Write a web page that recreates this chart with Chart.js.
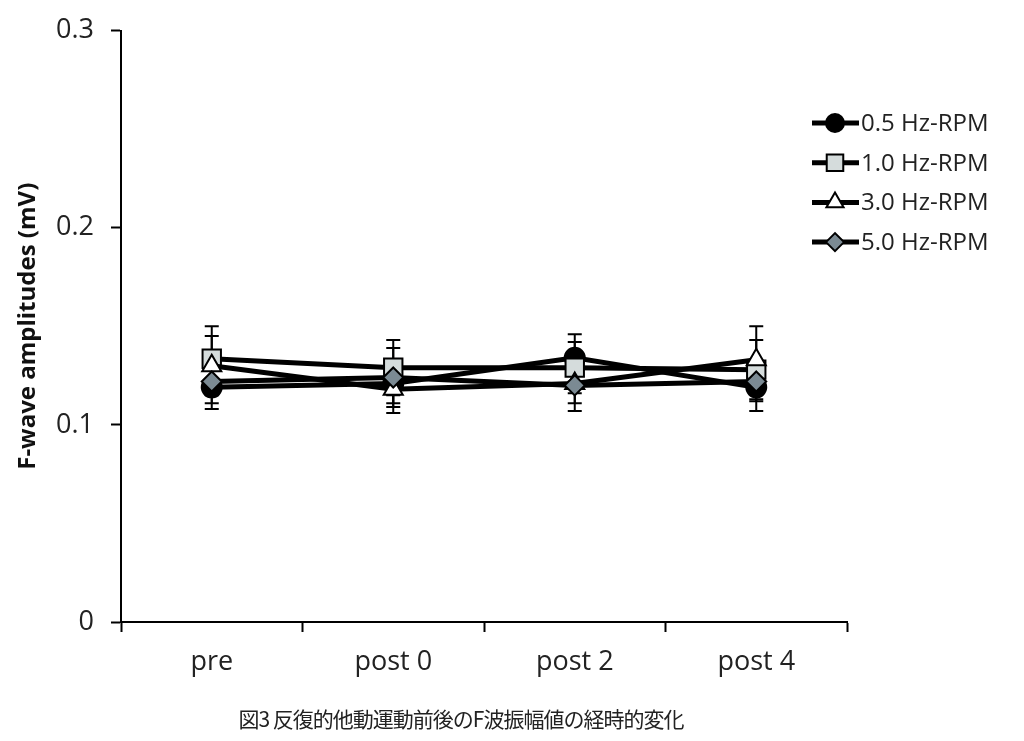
<!DOCTYPE html>
<html>
<head>
<meta charset="utf-8">
<script src="https://cdn.jsdelivr.net/npm/chart.js@4/dist/chart.umd.min.js"></script>
<style>
  html, body { margin: 0; padding: 0; background: #fff; }
  #wrap { position: relative; width: 1024px; height: 741px; }
  #caption {
    position: absolute; left: 0; width: 922px; top: 703px;
    text-align: center; font: 21px "Noto Sans CJK JP", sans-serif; color: #222;
    letter-spacing: -1px;
  }
</style>
</head>
<body>
<div id="wrap">
  <canvas id="chart" width="1024" height="741"></canvas>
  <div id="caption">図3 反復的他動運動前後のF波振幅値の経時的変化</div>
</div>
<script>
const timepoints = ['pre', 'post 0', 'post 2', 'post 4'];
const seriesNames = ['0.5 Hz-RPM', '1.0 Hz-RPM', '3.0 Hz-RPM', '5.0 Hz-RPM'];
const hz05 = [0.119, 0.121, 0.134, 0.119];
const hz10 = [0.1335, 0.129, 0.129, 0.128];
const hz30 = [0.130, 0.118, 0.121, 0.133];
const hz50 = [0.122, 0.124, 0.120, 0.122];
const sd05 = [0.011, 0.010, 0.012, 0.012];
const sd10 = [0.0165, 0.014, 0.013, 0.015];
const sd30 = [0.015, 0.012, 0.010, 0.017];
const sd50 = [0.011, 0.015, 0.013, 0.010];
const yTicks = [0, 0.1, 0.2, 0.3];

const styles = [
  { pointStyle: 'circle', pointBackgroundColor: '#000', pointRadius: 10 },
  { pointStyle: 'rect', pointBackgroundColor: '#d5dcdc', pointRadius: 13 },
  { pointStyle: 'triangle', pointBackgroundColor: '#fff', pointRadius: 11 },
  { pointStyle: 'rectRot', pointBackgroundColor: '#7b8a93', pointRadius: 10 }
];
const values = [hz05, hz10, hz30, hz50];
const errors = [sd05, sd10, sd30, sd50];

const datasets = values.map((v, i) => Object.assign({
  label: seriesNames[i],
  data: v,
  errors: errors[i],
  order: values.length - i, // later series drawn on top, like the original
  borderColor: '#000',
  borderWidth: 5,
  pointBorderColor: '#000',
  pointBorderWidth: 2,
  pointHoverRadius: styles[i].pointRadius,
  tension: 0
}, styles[i]));

// error bars drawn under the lines and markers
const errorBars = {
  id: 'errorBars',
  beforeDatasetsDraw(chart) {
    const ctx = chart.ctx;
    const y = chart.scales.y;
    ctx.save();
    ctx.strokeStyle = '#000';
    ctx.lineWidth = 2;
    chart.data.datasets.forEach((ds, i) => {
      const meta = chart.getDatasetMeta(i);
      meta.data.forEach((pt, j) => {
        const top = y.getPixelForValue(ds.data[j] + ds.errors[j]);
        const bot = y.getPixelForValue(ds.data[j] - ds.errors[j]);
        ctx.beginPath();
        ctx.moveTo(pt.x, top); ctx.lineTo(pt.x, bot);
        ctx.moveTo(pt.x - 7, top); ctx.lineTo(pt.x + 7, top);
        ctx.moveTo(pt.x - 7, bot); ctx.lineTo(pt.x + 7, bot);
        ctx.stroke();
      });
    });
    ctx.restore();
  }
};

// legend with line + marker like the original
const lineLegend = {
  id: 'lineLegend',
  afterDraw(chart) {
    const ctx = chart.ctx;
    ctx.save();
    chart.data.datasets.forEach((ds, i) => {
      const cy = 123 + i * 39.7;
      ctx.strokeStyle = '#000';
      ctx.lineWidth = 5;
      ctx.beginPath();
      ctx.moveTo(812, cy); ctx.lineTo(859, cy);
      ctx.stroke();
      ctx.fillStyle = ds.pointBackgroundColor;
      ctx.lineWidth = 2;
      Chart.helpers.drawPoint(ctx, {
        pointStyle: ds.pointStyle, radius: ds.pointRadius * 0.9, rotation: 0, borderWidth: 2
      }, 835, cy);
      ctx.fillStyle = '#222';
      ctx.font = '24px "Open Sans", sans-serif';
      ctx.textBaseline = 'middle';
      ctx.textAlign = 'left';
      ctx.fillText(ds.label, 861, cy + 1);
    });
    ctx.restore();
  }
};

new Chart(document.getElementById('chart').getContext('2d'), {
  type: 'line',
  data: { labels: timepoints, datasets: datasets },
  plugins: [errorBars, lineLegend],
  options: {
    responsive: false,
    animation: false,
    layout: { padding: { top: 29, right: 177, left: 0, bottom: 0 } },
    plugins: { legend: { display: false }, tooltip: { enabled: false } },
    scales: {
      x: {
        offset: true,
        afterFit(scale) { scale.height = 119; },
        grid: { offset: true, drawOnChartArea: false, color: '#000', tickLength: 10, tickWidth: 2 },
        border: { color: '#000', width: 2 },
        ticks: { color: '#222', padding: 14, font: { family: 'Open Sans', size: 27 } }
      },
      y: {
        min: 0, max: 0.3,
        afterFit(scale) { scale.width = 121; },
        afterBuildTicks(scale) { scale.ticks = yTicks.map(v => ({ value: v })); },
        grid: { drawOnChartArea: false, color: '#000', tickLength: 10, tickWidth: 2 },
        border: { color: '#000', width: 2 },
        ticks: {
          color: '#222', padding: 17,
          font: { family: 'Open Sans', size: 27, lineHeight: 1 },
          callback: v => v === 0 ? '0' : v.toFixed(1)
        },
        title: {
          display: true, text: 'F-wave amplitudes (mV)', color: '#111',
          font: { family: 'Open Sans', size: 24, weight: 'bold' },
          padding: { top: 14, bottom: 0 }
        }
      }
    }
  }
});
</script>
</body>
</html>
